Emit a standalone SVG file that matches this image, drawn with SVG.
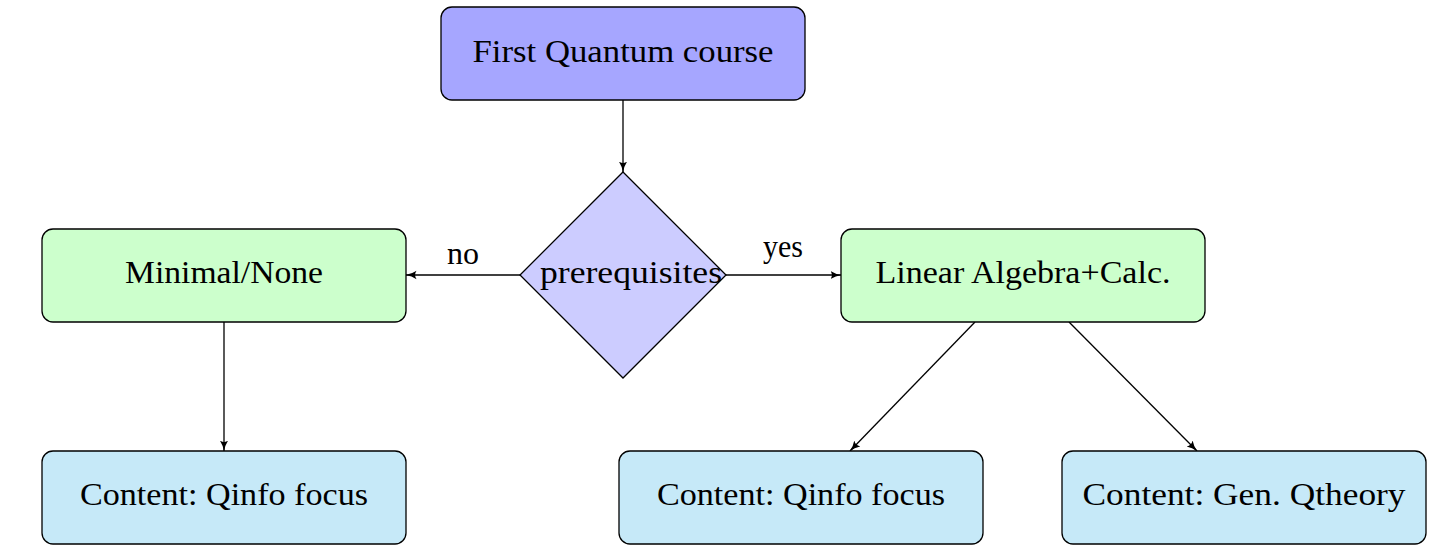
<svg xmlns="http://www.w3.org/2000/svg" width="1452" height="551" viewBox="0 0 1452 551">
<style>
.box{stroke:#000;stroke-width:1.3}
.t{font-family:"Liberation Serif","DejaVu Serif",serif;font-size:32px;fill:#000;text-anchor:middle}
.c{stroke:#000;stroke-width:1.3;fill:none;marker-end:url(#ah)}
</style>
<defs>
<marker id="ah" markerWidth="12" markerHeight="10" refX="10.5" refY="5" orient="auto" markerUnits="userSpaceOnUse">
<path d="M0,0.8 Q4.5,4 11,5 Q4.5,6 0,9.2 Q2.8,5 0,0.8 Z" fill="#000"/>
</marker>
</defs>
<rect width="1452" height="551" fill="#fff"/>
<g id="connectors">
<line class="c" x1="623" y1="100" x2="623" y2="172"/>
<line class="c" x1="520" y1="275" x2="406" y2="275"/>
<line class="c" x1="726" y1="275" x2="841" y2="275"/>
<line class="c" x1="224" y1="322" x2="224" y2="451"/>
<line class="c" x1="975" y1="322" x2="850" y2="451"/>
<line class="c" x1="1069" y1="322" x2="1197" y2="451"/>
<text class="t" x="463" y="264" textLength="32" lengthAdjust="spacingAndGlyphs">no</text>
<text class="t" x="783" y="257" textLength="40" lengthAdjust="spacingAndGlyphs">yes</text>
</g>
<g id="start">
<rect class="box" x="441" y="7" width="364" height="93" rx="11" fill="#a6a6ff"/>
<text class="t" x="623" y="62" textLength="301" lengthAdjust="spacingAndGlyphs">First Quantum course</text>
</g>
<g id="prereq">
<polygon class="box" points="623,172 726,275 623,378 520,275" fill="#ccccff"/>
<text class="t" x="631" y="283" textLength="182" lengthAdjust="spacingAndGlyphs">prerequisites</text>
</g>
<g id="minimal">
<rect class="box" x="42" y="229" width="364" height="93" rx="11" fill="#ccffcc"/>
<text class="t" x="224" y="283" textLength="198" lengthAdjust="spacingAndGlyphs">Minimal/None</text>
</g>
<g id="linalg">
<rect class="box" x="841" y="229" width="364" height="93" rx="11" fill="#ccffcc"/>
<text class="t" x="1023" y="283" textLength="295" lengthAdjust="spacingAndGlyphs">Linear Algebra+Calc.</text>
</g>
<g id="qinfo1">
<rect class="box" x="42" y="451" width="364" height="93" rx="11" fill="#c6e9f8"/>
<text class="t" x="224" y="505" textLength="288" lengthAdjust="spacingAndGlyphs">Content:  Qinfo focus</text>
</g>
<g id="qinfo2">
<rect class="box" x="619" y="451" width="364" height="93" rx="11" fill="#c6e9f8"/>
<text class="t" x="801" y="505" textLength="288" lengthAdjust="spacingAndGlyphs">Content:  Qinfo focus</text>
</g>
<g id="gen">
<rect class="box" x="1062" y="451" width="364" height="93" rx="11" fill="#c6e9f8"/>
<text class="t" x="1244" y="505" textLength="323" lengthAdjust="spacingAndGlyphs">Content:  Gen. Qtheory</text>
</g>
</svg>
